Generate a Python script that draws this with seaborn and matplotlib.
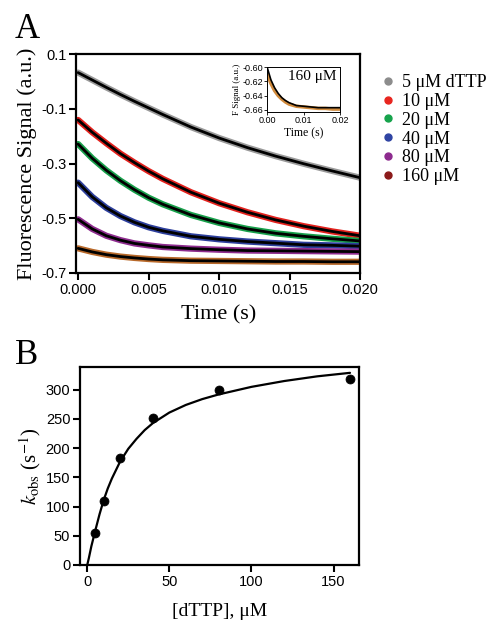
import numpy as np
import pandas as pd
import seaborn as sns
import matplotlib.pyplot as plt
from matplotlib.lines import Line2D

# ---- panel A: stopped-flow traces ----
time_s = [0, 0.001, 0.002, 0.003, 0.004, 0.005, 0.006, 0.008,
          0.010, 0.012, 0.014, 0.016, 0.018, 0.020]
conc_labels = ['5 \u03bcM dTTP', '10 \u03bcM', '20 \u03bcM', '40 \u03bcM', '80 \u03bcM', '160 \u03bcM']
trace_5 = [0.032, 0.005, -0.022, -0.048, -0.073, -0.097, -0.121, -0.167,
           -0.207, -0.242, -0.273, -0.301, -0.327, -0.352]
trace_10 = [-0.141, -0.186, -0.226, -0.264, -0.297, -0.328, -0.356, -0.405,
            -0.445, -0.478, -0.506, -0.529, -0.548, -0.564]
trace_20 = [-0.229, -0.281, -0.325, -0.363, -0.396, -0.425, -0.449, -0.488,
            -0.517, -0.539, -0.555, -0.566, -0.575, -0.583]
trace_40 = [-0.370, -0.422, -0.462, -0.492, -0.515, -0.533, -0.546, -0.566,
            -0.577, -0.585, -0.591, -0.597, -0.599, -0.602]
trace_80 = [-0.504, -0.539, -0.564, -0.580, -0.592, -0.599, -0.605, -0.611,
            -0.615, -0.618, -0.619, -0.620, -0.621, -0.622]
trace_160 = [-0.610, -0.623, -0.633, -0.640, -0.645, -0.649, -0.652, -0.655,
             -0.656, -0.657, -0.658, -0.658, -0.659, -0.659]
traces = [trace_5, trace_10, trace_20, trace_40, trace_80, trace_160]
trace_colors = ['#9a9a9a', '#e3211d', '#18a04b', '#2d3f9c', '#8e2c8f', '#b8692a']
legend_colors = ['#8c8c8c', '#e8251f', '#16a34c', '#2f44a3', '#8d2a8e', '#8b1a1a']

# inset: 160 uM trace
inset_fit = [-0.601, -0.618, -0.629, -0.637, -0.643, -0.647, -0.650, -0.654,
             -0.655, -0.656, -0.657, -0.657, -0.657, -0.657]

# ---- panel B: kobs vs [dTTP] ----
dttp_uM = [5, 10, 20, 40, 80, 160]
kobs = [54, 110, 183, 251, 299, 318]
fit_x = [0, 1, 2.5, 5, 7.5, 10, 12.5, 15, 20, 25, 30, 35, 40, 50, 60, 70, 80,
         100, 120, 140, 160]
fit_y = [0, 12, 32, 60, 87, 111, 131, 148, 177, 199, 216, 231, 243, 261, 274,
         284, 292, 305, 315, 323, 329]

sns.set_style('ticks')
plt.rcParams['font.family'] = ['Liberation Sans', 'DejaVu Sans']
plt.rcParams['mathtext.fontset'] = 'stix'
plt.rcParams['axes.unicode_minus'] = False
for key in ('text.color', 'axes.labelcolor', 'axes.edgecolor', 'xtick.color', 'ytick.color'):
    plt.rcParams[key] = 'black'
serif = ['Liberation Serif', 'DejaVu Serif']

fig = plt.figure(figsize=(5.01, 6.25), dpi=100)
axA = fig.add_axes([0.152, 0.5632, 0.567, 0.3504])
axB = fig.add_axes([0.1597, 0.096, 0.5569, 0.3168])
axI = fig.add_axes([0.5335, 0.8203, 0.1451, 0.073])

long = pd.DataFrame({
    't': time_s * len(traces),
    'signal': [v for tr in traces for v in tr],
    'conc': [c for c in conc_labels for _ in time_s],
})

sns.lineplot(data=long, x='t', y='signal', hue='conc', palette=trace_colors,
             linewidth=4.5, legend=False, ax=axA)
sns.lineplot(data=long, x='t', y='signal', units='conc', estimator=None,
             color='black', linewidth=2.0, legend=False, ax=axA)

axA.set_xlim(-0.00014, 0.020)
axA.set_ylim(-0.7, 0.1)
axA.set_xticks([0, 0.005, 0.010, 0.015, 0.020])
axA.set_xticklabels(['0.000', '0.005', '0.010', '0.015', '0.020'])
axA.set_yticks([0.1, -0.1, -0.3, -0.5, -0.7])
axA.set_yticklabels(['0.1', '-0.1', '-0.3', '-0.5', '-0.7'])
axA.set_xlabel('Time (s)', family=serif, fontsize=16, labelpad=6)
axA.set_ylabel('Fluorescence Signal (a.u.)', family=serif, fontsize=16, labelpad=3)

# inset
sns.lineplot(x=time_s, y=trace_160, color='#d08a3c', linewidth=2.5, ax=axI)
sns.lineplot(x=time_s, y=inset_fit, color='black', linewidth=1.2, ax=axI)
axI.set_xlim(0, 0.02)
axI.set_ylim(-0.6635, -0.5995)
axI.set_xticks([0, 0.01, 0.02])
axI.set_xticklabels(['0.00', '0.01', '0.02'])
axI.set_yticks([-0.60, -0.62, -0.64, -0.66])
axI.set_yticklabels(['-0.60', '-0.62', '-0.64', '-0.66'])
axI.tick_params(labelsize=6.5, length=2, width=0.6, pad=1)
axI.set_xlabel('Time (s)', family=serif, fontsize=8.5, labelpad=1)
axI.set_ylabel('F Signal (a.u.)', family=serif, fontsize=6.5, labelpad=1)
axI.text(0.95, 0.70, '160 \u03bcM', transform=axI.transAxes, ha='right',
         family=serif, fontsize=11)
for s in axI.spines.values():
    s.set_linewidth(0.7)

# panel B
sns.lineplot(x=fit_x, y=fit_y, color='black', linewidth=1.6, ax=axB)
sns.scatterplot(x=dttp_uM, y=kobs, color='black', s=42, edgecolor='black', zorder=3, ax=axB)
axB.set_xlim(-4.4, 165.5)
axB.set_ylim(0, 339)
axB.set_xticks([0, 50, 100, 150])
axB.set_yticks([0, 50, 100, 150, 200, 250, 300])
axB.set_xlabel('[dTTP], \u03bcM', family=serif, fontsize=14, labelpad=10)
axB.set_ylabel(r'$k_{\mathrm{obs}}$ (s$^{-1}$)', family=serif, fontsize=15, labelpad=2)

for ax in (axA, axB):
    ax.tick_params(labelsize=10.5, length=5, width=1.5, pad=2)
    for s in ax.spines.values():
        s.set_linewidth(1.6)

handles = [Line2D([], [], marker='o', linestyle='none', color=c, markersize=5)
           for c in legend_colors]
fig.legend(handles, conc_labels, loc='upper left', bbox_to_anchor=(0.742, 0.893),
           frameon=False, prop={'family': serif, 'size': 13}, handletextpad=0.3,
           labelspacing=0.1, handlelength=1.0, borderaxespad=0)

fig.text(0.03, 0.94, 'A', family=serif, fontsize=25)
fig.text(0.03, 0.418, 'B', family=serif, fontsize=25)

fig.savefig('out.png', dpi=100)
